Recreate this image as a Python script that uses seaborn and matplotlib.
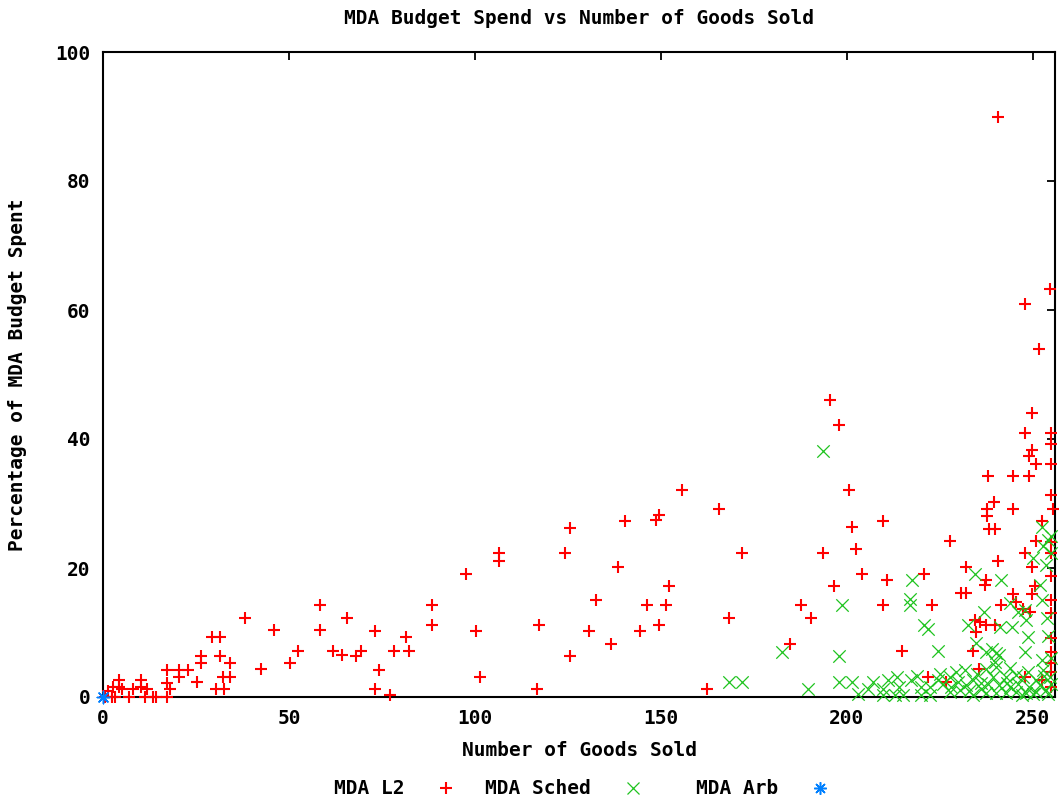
import matplotlib
matplotlib.use("Agg")
import matplotlib.pyplot as plt
from matplotlib.lines import Line2D
import pandas as pd
import seaborn as sns

# ---- data -------------------------------------------------------------
l2_goods = [
    0.5, 1.4, 2.3, 2.8, 3.2, 4.3, 4.3, 5.0, 7.1, 8.1, 10.2, 10.2, 11.3, 11.7,
    13.5, 14.2, 17.1, 17.1, 17.1, 18.0, 20.4, 20.4, 22.8, 25.4, 26.3, 26.3,
    29.2, 31.5, 31.5, 30.4, 32.5, 32.3, 34.1, 34.1, 38.2, 42.5, 46.0, 50.3,
    52.5, 58.3, 58.3, 61.9, 64.4, 65.5, 68.0, 69.5, 73.1, 73.1, 74.2, 77.3,
    78.3, 81.5, 82.3, 88.4, 88.4, 97.6, 100.3, 101.3, 106.4, 106.4, 116.6,
    117.3, 124.3, 125.5, 125.5, 130.7, 132.5, 136.7, 138.5, 140.3, 144.5,
    146.3, 148.7, 149.5, 149.5, 151.3, 152.2, 155.6, 162.4, 165.7, 168.4,
    171.7, 184.7, 187.8, 190.5, 193.6, 195.6, 196.5, 197.8, 200.6, 201.5,
    202.4, 204.1, 209.8, 210.7, 209.8, 214.8, 220.8, 221.9, 222.8, 226.8,
    227.8, 230.8, 232.0, 232.0, 234.0, 234.4, 234.7, 235.6, 235.8, 237.1,
    237.4, 237.5, 237.7, 237.7, 238.0, 238.2, 239.6, 239.8, 239.8, 240.7,
    240.7, 241.6, 244.7, 244.7, 244.7, 245.6, 247.4, 247.8, 247.8, 247.8,
    247.8, 248.9, 248.9, 249.2, 249.9, 249.9, 249.9, 249.9, 250.5, 250.8,
    250.8, 251.7, 252.6, 252.6, 254.7, 255.0, 255.0, 255.0, 255.0, 255.5,
    255.0, 255.0, 255.0, 255.0, 255.0, 255.0, 255.0, 255.0, 255.0, 255.0,
]
l2_spend = [
    0.0, 1.0, 0.0, 1.6, 0.0, 2.6, 1.6, 1.3, 0.0, 1.3, 2.6, 1.6, 0.0, 1.3,
    0.0, 0.0, 4.2, 2.2, 0.0, 1.3, 4.2, 3.1, 4.2, 2.4, 6.4, 5.2,
    9.3, 9.3, 6.4, 1.3, 1.3, 3.1, 5.2, 3.1, 12.2, 4.3, 10.4, 5.2,
    7.1, 14.3, 10.4, 7.2, 6.5, 12.2, 6.4, 7.2, 10.3, 1.3, 4.2, 0.3,
    7.2, 9.3, 7.2, 14.3, 11.2, 19.0, 10.3, 3.1, 22.4, 21.1, 1.3,
    11.2, 22.3, 26.2, 6.4, 10.3, 15.0, 8.2, 20.1, 27.3, 10.3,
    14.3, 27.4, 28.2, 11.1, 14.3, 17.2, 32.1, 1.3, 29.2, 12.2,
    22.3, 8.2, 14.3, 12.2, 22.3, 46.1, 17.2, 42.2, 32.1, 26.3,
    23.0, 19.1, 27.3, 18.2, 14.3, 7.1, 19.1, 3.1, 14.3, 2.4,
    24.2, 16.2, 16.2, 20.2, 7.1, 12.0, 10.1, 4.3, 11.7, 17.4,
    18.1, 11.2, 29.1, 28.1, 34.2, 26.1, 30.3, 26.1, 11.2, 90.0,
    21.1, 14.3, 34.2, 29.2, 16.0, 14.8, 13.7, 61.0, 41.0, 22.3,
    3.1, 37.3, 34.2, 13.2, 44.0, 38.3, 20.2, 16.0, 17.2, 36.2,
    24.2, 54.0, 27.3, 2.6, 63.2, 41.0, 39.2, 36.2, 31.3, 29.1,
    24.0, 22.3, 18.7, 15.0, 13.0, 9.1, 7.0, 5.2, 3.9, 1.5,
]

sched_goods = [
    168.4, 171.7, 182.7, 189.6, 193.6, 197.8, 197.9, 198.8, 201.5, 203.0,
    205.7, 207.0, 209.8, 209.8, 211.1, 212.9, 213.4, 214.0, 215.1, 217.0,
    217.0, 217.6, 217.4, 219.0, 220.1, 220.1, 220.7, 221.8, 222.3, 222.3,
    224.6, 224.6, 225.0, 226.0, 227.7, 227.7, 228.0, 229.5, 230.0, 230.4,
    231.7, 232.0, 232.6, 233.0, 234.0, 234.0, 234.4, 234.8, 235.0, 236.0,
    236.2, 236.9, 237.5, 237.5, 237.5, 238.0, 239.0, 239.3, 239.8, 240.2,
    240.2, 240.2, 241.0, 241.0, 241.2, 241.6, 242.9, 242.9, 243.0, 243.8,
    244.0, 244.0, 244.4, 245.6, 245.6, 246.0, 246.0, 247.0, 247.4, 247.8,
    248.0, 248.3, 248.3, 248.7, 248.7, 249.0, 250.0, 250.0, 251.0, 251.0,
    251.9, 252.0, 252.5, 252.6, 252.6, 252.8, 252.8, 253.0, 253.5, 253.7,
    253.9, 254.0, 254.0, 254.1, 254.6, 255.0, 255.0, 255.0, 255.0,
]
sched_spend = [
    2.4, 2.4, 7.0, 1.3, 38.2, 6.4, 2.4, 14.3, 2.4, 0.5,
    1.3, 2.4, 1.3, 0.3, 2.6, 0.3, 3.1, 1.6, 0.3, 15.2,
    14.3, 18.2, 2.6, 3.2, 1.6, 0.3, 11.2, 10.6, 1.6, 0.3,
    7.1, 2.6, 3.5, 2.0, 3.1, 0.8, 1.5, 3.9, 2.4, 1.1,
    4.2, 1.8, 11.2, 0.9, 2.6, 0.3, 19.0, 8.3, 3.5, 1.2,
    2.1, 13.2, 7.0, 4.4, 0.6, 2.0, 7.5, 3.1, 5.5, 6.8,
    4.7, 0.6, 1.8, 6.5, 10.9, 18.2, 3.1, 0.6, 2.2, 14.5,
    1.5, 4.5, 10.9, 3.4, 0.8, 13.2, 2.0, 0.3, 3.1, 7.0,
    13.5, 11.9, 0.6, 9.3, 3.9, 1.5, 0.4, 21.5, 2.6, 0.8,
    17.4, 1.8, 5.8, 26.4, 15.1, 23.4, 4.2, 3.2, 20.5, 1.1,
    12.3, 9.5, 0.5, 24.4, 3.1, 22.3, 25.0, 6.0, 2.0,
]

arb_goods = [0.0]
arb_spend = [0.0]

series_names = ["MDA L2", "MDA Sched", "MDA Arb"]
series_colors = ["#ff0000", "#1fc41f", "#0080ff"]
series_markers = ["+", "x", (8, 2, 0)]
series_widths = [1.5, 0.9, 1.1]

df = pd.concat(
    [
        pd.DataFrame({"goods": l2_goods, "spend": l2_spend, "series": series_names[0]}),
        pd.DataFrame({"goods": sched_goods, "spend": sched_spend, "series": series_names[1]}),
        pd.DataFrame({"goods": arb_goods, "spend": arb_spend, "series": series_names[2]}),
    ],
    ignore_index=True,
)

# ---- style ------------------------------------------------------------
sns.set_theme(style="white")
plt.rcParams["font.family"] = ["DejaVu Sans Mono", "DejaVu Sans"]
plt.rcParams["font.weight"] = "bold"
plt.rcParams["text.color"] = "black"
FS = 14

W, H = 1060, 801
fig = plt.figure(figsize=(W / 100, H / 100), dpi=100)
left, right, top, bottom = 103, 1055, 52, 697
ax = fig.add_axes([left / W, 1 - bottom / H, (right - left) / W, (bottom - top) / H])

for name, color, marker, lw in zip(series_names, series_colors, series_markers, series_widths):
    sub = df[df["series"] == name]
    sns.scatterplot(
        data=sub, x="goods", y="spend", ax=ax, marker=marker, color=color,
        s=80, linewidth=lw, clip_on=False, legend=False, zorder=3,
    )

ax.set_xlim(0, 256)
ax.set_ylim(0, 100)
ax.set_xticks([0, 50, 100, 150, 200, 250])
ax.set_yticks([0, 20, 40, 60, 80, 100])
ax.tick_params(axis="both", direction="in", length=6, width=1.3, color="black",
               top=True, right=True, labelsize=FS, labelcolor="black")
ax.tick_params(axis="x", pad=9)
ax.tick_params(axis="y", pad=9)
for lab in ax.get_xticklabels() + ax.get_yticklabels():
    lab.set_fontweight("bold")
for sp in ax.spines.values():
    sp.set_color("black")
    sp.set_linewidth(1.5)

ax.set_xlabel("")
ax.set_ylabel("")
fig.text((left + right) / 2 / W, 1 - 750 / H, "Number of Goods Sold", color="black",
         ha="center", va="center", fontsize=FS, fontweight="bold")
fig.text(18 / W, 1 - (top + bottom) / 2 / H, "Percentage of MDA Budget Spent", color="black",
         ha="center", va="center", rotation=90, fontsize=FS, fontweight="bold")
fig.text((left + right) / 2 / W, 1 - 18 / H, "MDA Budget Spend vs Number of Goods Sold",
         color="black", ha="center", va="center", fontsize=FS, fontweight="bold")

# key along the bottom: label right-aligned, sample marker to its right
key_text_right = [405, 591, 778]
key_sample_x = [446, 633, 820]
key_y = 1 - 788 / H
for name, color, marker, lw, tx, mx in zip(series_names, series_colors, series_markers,
                                          series_widths, key_text_right, key_sample_x):
    fig.text(tx / W, key_y, name, color="black", ha="right", va="center",
             fontsize=FS, fontweight="bold")
    fig.add_artist(Line2D([mx / W], [key_y], transform=fig.transFigure, marker=marker,
                          markersize=9, markeredgewidth=lw, color=color, linestyle="none"))

fig.savefig("out.png", dpi=100, facecolor="white")
